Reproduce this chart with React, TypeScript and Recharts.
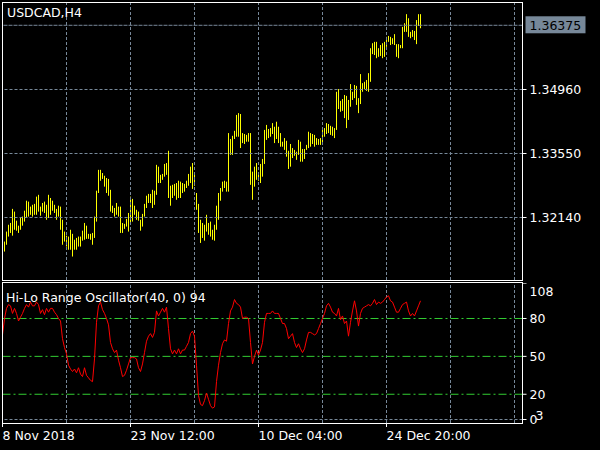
import { ComposedChart, Bar, Line, XAxis, YAxis, ReferenceLine } from "recharts";

// USDCAD H4 bars, oldest first (one per 4h bar)
const barHigh = [
  1.3156, 1.3161, 1.3183, 1.3198, 1.3202, 1.3233, 1.3227, 1.3207, 1.3196, 1.3213,
  1.3216, 1.3229, 1.3251, 1.3249, 1.3238, 1.3242, 1.3244, 1.3260, 1.3264, 1.3238,
  1.3246, 1.3249, 1.3242, 1.3264, 1.3257, 1.3251, 1.3242, 1.3233, 1.3240, 1.3238,
  1.3209, 1.3183, 1.3174, 1.3172, 1.3187, 1.3178, 1.3165, 1.3169, 1.3172, 1.3172,
  1.3185, 1.3202, 1.3196, 1.3178, 1.3178, 1.3180, 1.3216, 1.3273, 1.3319, 1.3319,
  1.3312, 1.3306, 1.3301, 1.3299, 1.3275, 1.3240, 1.3235, 1.3246, 1.3238, 1.3238,
  1.3202, 1.3200, 1.3211, 1.3224, 1.3260, 1.3255, 1.3240, 1.3231, 1.3227, 1.3209,
  1.3222, 1.3244, 1.3262, 1.3266, 1.3266, 1.3275, 1.3273, 1.3330, 1.3326, 1.3308,
  1.3310, 1.3332, 1.3334, 1.3361, 1.3284, 1.3286, 1.3288, 1.3290, 1.3295, 1.3293,
  1.3290, 1.3288, 1.3295, 1.3310, 1.3326, 1.3334, 1.3308, 1.3268, 1.3244, 1.3209,
  1.3202, 1.3198, 1.3220, 1.3202, 1.3205, 1.3187, 1.3198, 1.3240, 1.3268, 1.3279,
  1.3293, 1.3295, 1.3293, 1.3400, 1.3387, 1.3394, 1.3405, 1.3440, 1.3444, 1.3442,
  1.3400, 1.3398, 1.3396, 1.3400, 1.3400, 1.3315, 1.3326, 1.3334, 1.3310, 1.3332,
  1.3343, 1.3407, 1.3418, 1.3409, 1.3411, 1.3422, 1.3414, 1.3425, 1.3414, 1.3400,
  1.3381, 1.3389, 1.3383, 1.3361, 1.3376, 1.3367, 1.3363, 1.3359, 1.3385, 1.3381,
  1.3365, 1.3365, 1.3374, 1.3403, 1.3400, 1.3398, 1.3396, 1.3389, 1.3387, 1.3389,
  1.3407, 1.3411, 1.3422, 1.3420, 1.3416, 1.3414, 1.3411, 1.3491, 1.3497, 1.3471,
  1.3475, 1.3484, 1.3482, 1.3473, 1.3508, 1.3491, 1.3506, 1.3504, 1.3477, 1.3530,
  1.3510, 1.3513, 1.3517, 1.3532, 1.3587, 1.3598, 1.3601, 1.3601, 1.3587, 1.3594,
  1.3598, 1.3601, 1.3612, 1.3614, 1.3612, 1.3609, 1.3618, 1.3596, 1.3596, 1.3594,
  1.3634, 1.3642, 1.3662, 1.3653, 1.3623, 1.3627, 1.3625, 1.3649, 1.3662, 1.3662,
];

const barLow = [
  1.3134, 1.3139, 1.3154, 1.3172, 1.3180, 1.3174, 1.3187, 1.3185, 1.3180, 1.3187,
  1.3196, 1.3205, 1.3213, 1.3216, 1.3220, 1.3216, 1.3220, 1.3220, 1.3227, 1.3218,
  1.3227, 1.3224, 1.3209, 1.3213, 1.3220, 1.3229, 1.3224, 1.3209, 1.3216, 1.3187,
  1.3154, 1.3161, 1.3150, 1.3143, 1.3143, 1.3128, 1.3143, 1.3143, 1.3150, 1.3150,
  1.3163, 1.3165, 1.3167, 1.3167, 1.3165, 1.3154, 1.3169, 1.3205, 1.3268, 1.3295,
  1.3299, 1.3282, 1.3268, 1.3262, 1.3227, 1.3224, 1.3216, 1.3220, 1.3216, 1.3180,
  1.3180, 1.3189, 1.3194, 1.3183, 1.3198, 1.3205, 1.3220, 1.3209, 1.3207, 1.3185,
  1.3194, 1.3216, 1.3235, 1.3246, 1.3246, 1.3235, 1.3242, 1.3264, 1.3290, 1.3290,
  1.3297, 1.3304, 1.3308, 1.3257, 1.3240, 1.3257, 1.3262, 1.3253, 1.3257, 1.3257,
  1.3268, 1.3271, 1.3279, 1.3284, 1.3290, 1.3277, 1.3284, 1.3231, 1.3180, 1.3158,
  1.3169, 1.3163, 1.3183, 1.3176, 1.3172, 1.3165, 1.3163, 1.3187, 1.3209, 1.3251,
  1.3271, 1.3279, 1.3271, 1.3271, 1.3352, 1.3352, 1.3387, 1.3392, 1.3392, 1.3367,
  1.3378, 1.3376, 1.3381, 1.3381, 1.3286, 1.3253, 1.3282, 1.3297, 1.3295, 1.3290,
  1.3304, 1.3332, 1.3385, 1.3389, 1.3392, 1.3398, 1.3378, 1.3387, 1.3378, 1.3370,
  1.3370, 1.3363, 1.3348, 1.3321, 1.3326, 1.3345, 1.3350, 1.3341, 1.3352, 1.3337,
  1.3337, 1.3343, 1.3363, 1.3367, 1.3370, 1.3376, 1.3370, 1.3374, 1.3374, 1.3374,
  1.3374, 1.3392, 1.3398, 1.3400, 1.3396, 1.3394, 1.3389, 1.3407, 1.3453, 1.3447,
  1.3449, 1.3433, 1.3411, 1.3429, 1.3458, 1.3473, 1.3477, 1.3462, 1.3444, 1.3464,
  1.3491, 1.3497, 1.3493, 1.3491, 1.3513, 1.3574, 1.3572, 1.3565, 1.3568, 1.3570,
  1.3565, 1.3568, 1.3590, 1.3601, 1.3594, 1.3596, 1.3594, 1.3568, 1.3565, 1.3587,
  1.3587, 1.3623, 1.3623, 1.3612, 1.3609, 1.3612, 1.3605, 1.3596, 1.3636, 1.3631,
];

// Hi-Lo Range Oscillator(40, 0)
const hiLo = [
  67, 80, 88, 91, 90, 84, 88, 84, 78, 81,
  84, 88, 91, 89, 93, 90, 90, 93, 91, 84,
  87, 83, 88, 85, 88, 88, 85, 83, 80, 78,
  64, 57, 52, 43, 40, 38, 40, 37, 41, 36,
  34, 41, 35, 33, 31, 30, 48, 77, 90, 93,
  87, 84, 80, 75, 61, 56, 53, 55, 47, 41,
  34, 35, 39, 44, 49, 49, 49, 48, 41, 38,
  44, 53, 62, 66, 68, 65, 69, 86, 82, 85,
  88, 85, 89, 72, 56, 52, 55, 52, 56, 52,
  55, 55, 58, 61, 68, 70, 66, 43, 19, 12,
  11, 15, 21, 16, 11, 9, 10, 30, 43, 53,
  60, 63, 62, 76, 86, 89, 95, 92, 91, 89,
  80, 81, 81, 80, 61, 44, 50, 55, 51, 55,
  61, 77, 84, 84, 84, 86, 84, 84, 84, 80,
  76, 76, 72, 64, 66, 68, 61, 57, 60, 56,
  53, 56, 63, 69, 69, 68, 67, 68, 72, 76,
  80, 84, 90, 92, 89, 85, 84, 82, 88, 79,
  82, 76, 78, 66, 77, 86, 94, 86, 74, 84,
  88, 89, 90, 91, 90, 92, 95, 91, 93, 92,
  93, 95, 97, 98, 94, 93, 89, 85, 85, 88,
  91, 92, 93, 86, 82, 84, 82, 86, 90, 94,
];

const priceTicks = [1.3214, 1.3355, 1.3496];
const lastPrice = 1.36375;
const oscTicks = [0, 20, 50, 80, 108];
const oscLevels = [20, 50, 80];
const gridBars = [32, 64, 96, 128, 160, 192, 224, 256];
const timeTicks = [0, 64, 128, 192];
const timeLabels = ["8 Nov 2018", "23 Nov 12:00", "10 Dec 04:00", "24 Dec 20:00"];

const rows = barHigh.map((h, i) => ({ i, range: [barLow[i], h], osc: hiLo[i] }));

const FONT = "'DejaVu Sans', sans-serif";
const FS = 12.5;
const GRID = "#778899";

function PriceBar(props: any) {
  const { x, y, width, height } = props;
  if (x == null || y == null) return null;
  const cx = Math.floor(x + width / 2);
  return <rect x={cx} y={y} width={1} height={Math.max(height, 1)} fill="#ffff00" />;
}

function BidLabel(props: any) {
  const { viewBox } = props;
  const x = viewBox.x + viewBox.width + 3;
  const y = viewBox.y;
  return (
    <g>
      <rect x={x} y={y - 9} width={60} height={17} fill="#778899" />
      <text x={x + 4} y={y} dy="0.355em" fill="#000" fontSize={FS} fontFamily={FONT}>
        {lastPrice.toFixed(5)}
      </text>
    </g>
  );
}

function OscTick(props: any) {
  const { x, y, payload } = props;
  const v = payload.value;
  return (
    <g fill="#fff" fontSize={FS} fontFamily={FONT}>
      <text x={x} y={v === 108 ? y + 8 : y} dy="0.355em">{v}</text>
      {v === 0 && <text x={x + 6} y={y - 4} dy="0.355em">3</text>}
    </g>
  );
}

function TimeTick(props: any) {
  const { x, y, payload } = props;
  return (
    <text x={x} y={y} dy="0.71em" textAnchor="start" fill="#fff" fontSize={FS} fontFamily={FONT}>
      {timeLabels[timeTicks.indexOf(payload.value)]}
    </text>
  );
}

export default function App() {
  return (
    <div style={{ position: "relative", width: 600, height: 450, background: "#000", overflow: "hidden" }}>
      <style>{"body{margin:0;background:#000}"}</style>
      <div style={{ position: "absolute", left: 0, top: 0 }}>
        <ComposedChart width={600} height={280} data={rows} margin={{ top: 2, right: 0, bottom: 0, left: 2.5 }}>
          <XAxis dataKey="i" type="number" domain={[0, 260]} hide />
          <YAxis
            orientation="right"
            width={77.5}
            domain={[1.30763, 1.36888]}
            ticks={priceTicks}
            tickFormatter={(v: number) => v.toFixed(5)}
            axisLine={false}
            tickLine={{ stroke: "#fff" }}
            tickSize={4}
            tickMargin={3}
            tick={{ fill: "#fff", fontSize: FS, fontFamily: FONT }}
          />
          {gridBars.map((g) => (
            <ReferenceLine key={"v" + g} x={g} stroke={GRID} strokeDasharray="3 2" />
          ))}
          {priceTicks.map((p) => (
            <ReferenceLine key={"h" + p} y={p} stroke={GRID} strokeDasharray="3 2" />
          ))}
          <ReferenceLine y={lastPrice} stroke={GRID} strokeDasharray="4 1" label={<BidLabel />} />
          <Bar dataKey="range" barSize={1} shape={<PriceBar />} isAnimationActive={false} />
        </ComposedChart>
      </div>
      <div style={{ position: "absolute", left: 0, top: 283 }}>
        <ComposedChart width={600} height={167} data={rows} margin={{ top: 0, right: 0, bottom: 0, left: 2.5 }}>
          <XAxis
            dataKey="i"
            type="number"
            domain={[0, 260]}
            ticks={timeTicks}
            interval={0}
            height={27}
            axisLine={false}
            tickLine={{ stroke: "#fff" }}
            tickSize={4}
            tickMargin={4}
            tick={<TimeTick />}
          />
          <YAxis
            orientation="right"
            width={77.5}
            domain={[-2.76, 108.1]}
            ticks={oscTicks}
            interval={0}
            axisLine={false}
            tickLine={{ stroke: "#fff" }}
            tickSize={4}
            tickMargin={3}
            tick={<OscTick />}
          />
          {gridBars.map((g) => (
            <ReferenceLine key={"v" + g} x={g} stroke={GRID} strokeDasharray="3 2" />
          ))}
          <ReferenceLine y={0} stroke={GRID} strokeDasharray="3 2" />
          {oscLevels.map((l) => (
            <ReferenceLine key={"l" + l} y={l} stroke="#32cd32" strokeDasharray="8 3 2 3" />
          ))}
          <Line dataKey="osc" type="linear" stroke="#ff0000" strokeWidth={1} dot={false} isAnimationActive={false} />
        </ComposedChart>
      </div>
      <svg width={600} height={450} style={{ position: "absolute", left: 0, top: 0, pointerEvents: "none" }}>
        <rect x={2.5} y={2.5} width={520} height={278} fill="none" stroke="#fff" />
        <rect x={2.5} y={282.5} width={520} height={141} fill="none" stroke="#fff" />
        <text x={7} y={17} fill="#fff" fontSize={FS} fontFamily={FONT}>USDCAD,H4</text>
        <text x={6} y={301.5} fill="#fff" fontSize={FS} fontFamily={FONT}>Hi-Lo Range Oscillator(40, 0) 94</text>
      </svg>
    </div>
  );
}
